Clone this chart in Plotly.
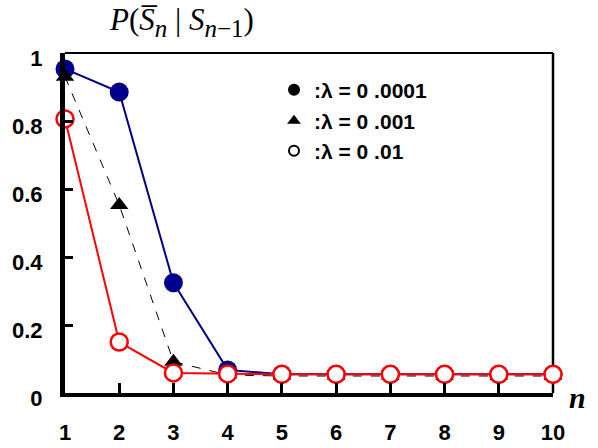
import plotly.graph_objects as go

n = [1, 2, 3, 4, 5, 6, 7, 8, 9, 10]
p_0001 = [0.953, 0.885, 0.324, 0.068, 0.055, 0.055, 0.055, 0.055, 0.055, 0.055]
p_001 = [0.93, 0.553, 0.092, 0.053, 0.05, 0.05, 0.05, 0.05, 0.05, 0.05]
p_01 = [0.806, 0.15, 0.059, 0.056, 0.055, 0.055, 0.055, 0.055, 0.055, 0.055]
y_ticks = [0, 0.2, 0.4, 0.6, 0.8, 1]
y_tick_text = ["0", "0.2", "0.4", "0.6", "0.8", "1"]
legend_names = ["<b>:\u03bb = 0 .0001</b>", "<b>:\u03bb = 0 .001</b>", "<b>:\u03bb = 0 .01</b>"]

fig = go.Figure()
fig.add_trace(go.Scatter(x=n, y=p_0001, mode="lines+markers", showlegend=False,
                         line=dict(color="#00008B", width=2),
                         marker=dict(symbol="circle", size=19, color="#00008B"),
                         cliponaxis=False))
fig.add_trace(go.Scatter(x=n, y=p_001, mode="lines+markers", showlegend=False,
                         line=dict(color="black", width=1, dash="dash"),
                         marker=dict(symbol="triangle-up", size=16, color="black"),
                         cliponaxis=False))
fig.add_trace(go.Scatter(x=n, y=p_01, mode="lines+markers", showlegend=False,
                         line=dict(color="#FF0000", width=2),
                         marker=dict(symbol="circle", size=17, color="white",
                                     line=dict(color="#FF0000", width=2.5)),
                         cliponaxis=False))

# legend entries (black symbols), one legend each for exact spacing
leg_syms = [dict(symbol="circle", size=12, color="black"),
            dict(symbol="triangle-up", size=12, color="black"),
            dict(symbol="circle", size=10, color="white", line=dict(color="black", width=2))]
leg_ids = ["legend", "legend2", "legend3"]
for name, sym, lid in zip(legend_names, leg_syms, leg_ids):
    fig.add_trace(go.Scatter(x=[None], y=[None], mode="markers", name=name,
                             marker=sym, legend=lid))

leg_common = dict(font=dict(family="Arial", size=21, color="black"),
                  bgcolor="rgba(0,0,0,0)", xanchor="left", yanchor="middle",
                  itemclick=False)
lx = (274 - 65) / 488
rows = [90, 121, 151]
fig.update_layout(
    legend=dict(x=lx, y=(393 - rows[0]) / 340, **leg_common),
    legend2=dict(x=lx, y=(393 - rows[1]) / 340, **leg_common),
    legend3=dict(x=lx, y=(393 - rows[2]) / 340, **leg_common),
)

fig.update_layout(
    width=598, height=448,
    margin=dict(l=65, r=45, t=53, b=55, autoexpand=False),
    paper_bgcolor="white", plot_bgcolor="white",
    font=dict(family="Arial", color="black"),
    xaxis=dict(range=[1, 10], tickvals=n, ticktext=[str(v) for v in n],
               automargin=False,
               showgrid=False, zeroline=False, showline=True, linecolor="black",
               linewidth=4, ticks="inside", ticklen=10, tickwidth=3, tickcolor="black",
               tickfont=dict(family="Arial", size=22, color="black", weight="bold"),
               ticklabelstandoff=17),
    yaxis=dict(range=[0, 1], tickvals=y_ticks, ticktext=y_tick_text,
               automargin=False,
               showgrid=False, zeroline=False, showline=True, linecolor="black",
               linewidth=5, ticks="inside", ticklen=8, tickwidth=3, tickcolor="black",
               tickfont=dict(family="Arial", size=22, color="black", weight="bold"),
               ticklabelstandoff=13, ticklabelshift=5),
)

# thin top and right frame lines
fig.add_shape(type="line", xref="paper", yref="paper", x0=0, x1=1, y0=1, y1=1,
              line=dict(color="black", width=2), layer="below")
fig.add_shape(type="line", xref="paper", yref="paper", x0=1, x1=1, y0=0, y1=1,
              line=dict(color="black", width=2.5), layer="below")

title_txt = ("<i>P</i>(<i>S\u0305</i><sub><span style='font-size:25px'><i>n</i></span></sub>"
             " | <i>S</i><sub><span style='font-size:25px'><i>n</i>\u22121</span></sub>)")
fig.add_annotation(xref="paper", yref="paper", x=(181 - 65) / 488, y=(393 - 22) / 340,
                   text=title_txt,
                   showarrow=False, xanchor="center", yanchor="middle",
                   font=dict(family="Liberation Serif", size=31, color="black"))
fig.add_annotation(xref="paper", yref="paper", x=(577 - 65) / 488, y=(393 - 397) / 340,
                   text="<b><i>n</i></b>", showarrow=False, xanchor="center", yanchor="middle",
                   font=dict(family="Liberation Serif", size=30, color="black"))

fig.write_html("out.html", config={"displayModeBar": False},
               post_script="document.body.style.margin='0';document.body.style.padding='0';")
